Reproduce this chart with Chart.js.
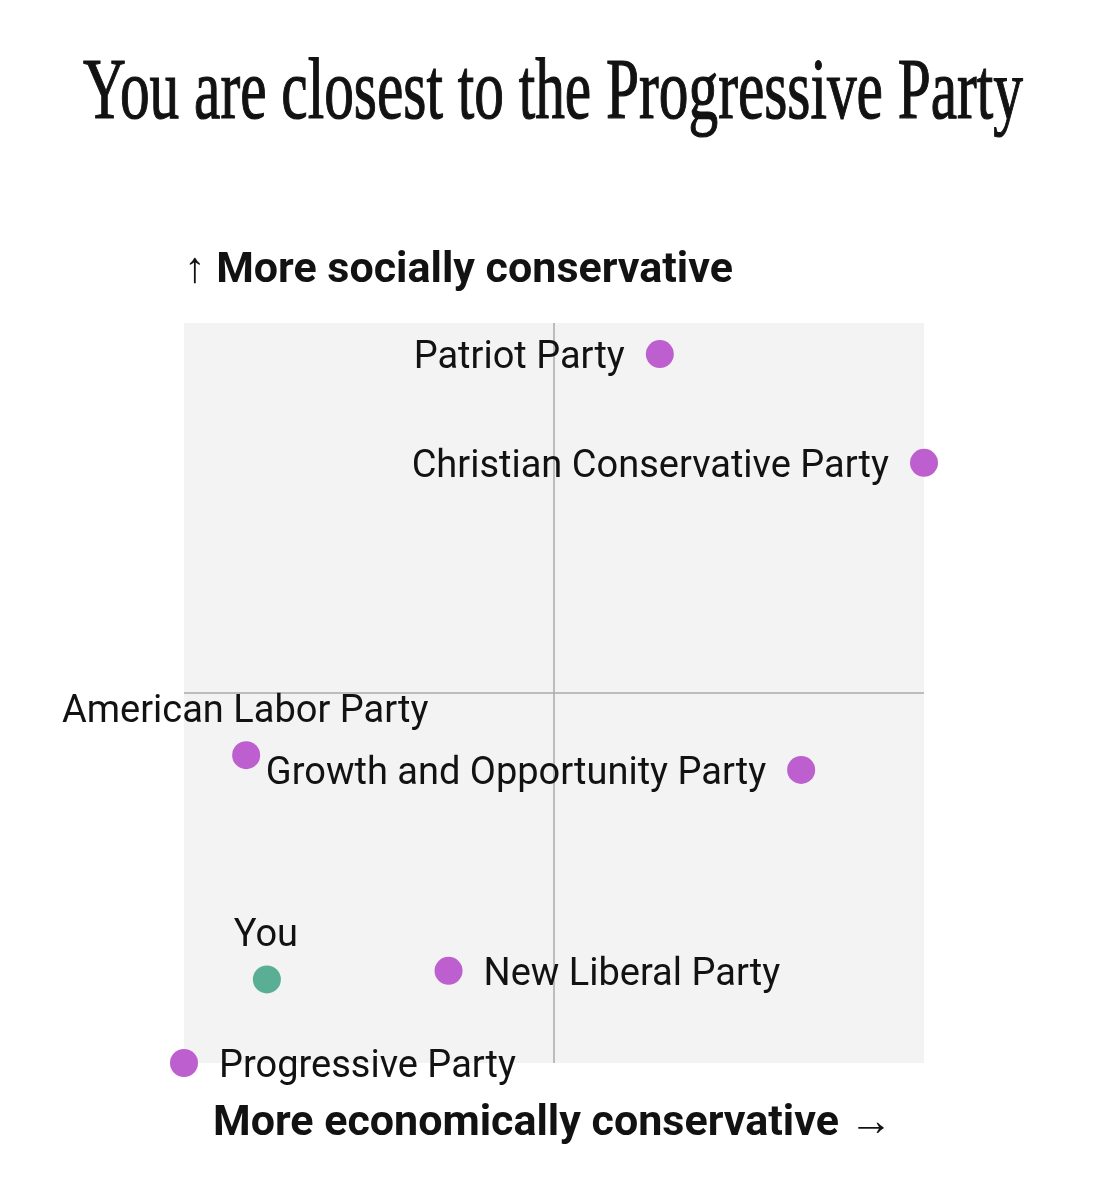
<!DOCTYPE html>
<html>
<head>
<meta charset="utf-8">
<title>You are closest to the Progressive Party</title>
<script src="https://cdn.jsdelivr.net/npm/chart.js@4.4.1/dist/chart.umd.min.js"></script>
<style>
  html, body { margin: 0; padding: 0; background: #fff; }
  #wrap { width: 1106px; height: 1200px; }
</style>
</head>
<body>
<div id="wrap"><canvas id="quadChart" width="1106" height="1200"></canvas></div>
<script>
// party positions, -1..1 on both axes
var parties = ['Patriot Party', 'Christian Conservative Party', 'American Labor Party',
               'Growth and Opportunity Party', 'New Liberal Party', 'Progressive Party'];
var economic = [0.286, 1.0, -0.832, 0.668, -0.285, -1.0];
var social = [0.916, 0.622, -0.168, -0.208, -0.751, -1.0];

var youLabel = 'You';
var youEconomic = [-0.776];
var youSocial = [-0.774];

// where each label sits next to its dot
var partyLabelSide = ['left', 'left', 'above', 'left', 'right', 'right'];

var chartTitle = 'You are closest to the Progressive Party';
var yAxisLabel = '\u2191 More socially conservative';
var xAxisLabel = 'More economically conservative \u2192';

var purple = '#bd5fcf';
var green = '#5aae94';
var labelFont = '38px Roboto, "Liberation Sans", sans-serif';

function toPoints(xs, ys) {
    return xs.map(function (x, i) { return {x: x, y: ys[i]}; });
}

// background square, centre lines, titles and point labels
var quadPlugin = {
    id: 'quad',
    beforeDatasetsDraw: function (chart) {
        var ctx = chart.ctx, a = chart.chartArea;
        var x0 = chart.scales.x.getPixelForValue(0);
        var y0 = chart.scales.y.getPixelForValue(0);
        ctx.save();
        ctx.fillStyle = '#f3f3f3';
        ctx.fillRect(a.left, a.top, a.right - a.left, a.bottom - a.top);
        ctx.strokeStyle = '#ababab';
        ctx.lineWidth = 1.5;
        ctx.beginPath();
        ctx.moveTo(x0, a.top); ctx.lineTo(x0, a.bottom);
        ctx.moveTo(a.left, y0); ctx.lineTo(a.right, y0);
        ctx.stroke();
        ctx.restore();
    },
    afterDraw: function (chart) {
        var ctx = chart.ctx, a = chart.chartArea;
        ctx.save();
        ctx.fillStyle = '#121212';

        // title, condensed serif (a thin stroke to thicken it a bit)
        ctx.font = '86px "Liberation Serif", "DejaVu Serif", serif';
        ctx.textAlign = 'center';
        ctx.textBaseline = 'alphabetic';
        ctx.fillText(chartTitle, 553, 118, 940);
        ctx.strokeStyle = '#121212';
        ctx.lineWidth = 1.2;
        ctx.strokeText(chartTitle, 553, 118, 940);

        ctx.font = 'bold 43px Roboto, "Liberation Sans", sans-serif';
        ctx.textAlign = 'left';
        ctx.fillText(yAxisLabel, a.left, 282, 552);
        ctx.fillText(xAxisLabel, 213, 1135, 686);

        ctx.font = labelFont;
        var meta = chart.getDatasetMeta(0);
        meta.data.forEach(function (pt, i) {
            drawLabel(ctx, parties[i], pt.x, pt.y, partyLabelSide[i]);
        });
        var you = chart.getDatasetMeta(1).data[0];
        drawLabel(ctx, youLabel, you.x, you.y, 'above');
        ctx.restore();
    }
};

function drawLabel(ctx, text, x, y, side) {
    if (side === 'left') {
        ctx.textAlign = 'right';
        ctx.fillText(text, x - 35, y + 14);
    } else if (side === 'right') {
        ctx.textAlign = 'left';
        ctx.fillText(text, x + 35, y + 14);
    } else {
        ctx.textAlign = 'center';
        ctx.fillText(text, x - 1, y - 33);
    }
}

var ctx = document.getElementById('quadChart').getContext('2d');
var quadChart = new Chart(ctx, {
    type: 'scatter',
    data: {
        datasets: [{
            label: 'Parties',
            data: toPoints(economic, social),
            backgroundColor: purple,
            borderWidth: 0,
            pointRadius: 14,
            pointHoverRadius: 14,
            clip: false
        }, {
            label: youLabel,
            data: toPoints(youEconomic, youSocial),
            backgroundColor: green,
            borderWidth: 0,
            pointRadius: 14,
            pointHoverRadius: 14,
            clip: false
        }]
    },
    options: {
        responsive: false,
        animation: false,
        layout: {padding: {left: 184, right: 182, top: 323, bottom: 137}},
        plugins: {
            legend: {display: false},
            tooltip: {enabled: false}
        },
        scales: {
            x: {type: 'linear', min: -1, max: 1, display: false},
            y: {type: 'linear', min: -1, max: 1, display: false}
        }
    },
    plugins: [quadPlugin]
});
</script>
</body>
</html>
